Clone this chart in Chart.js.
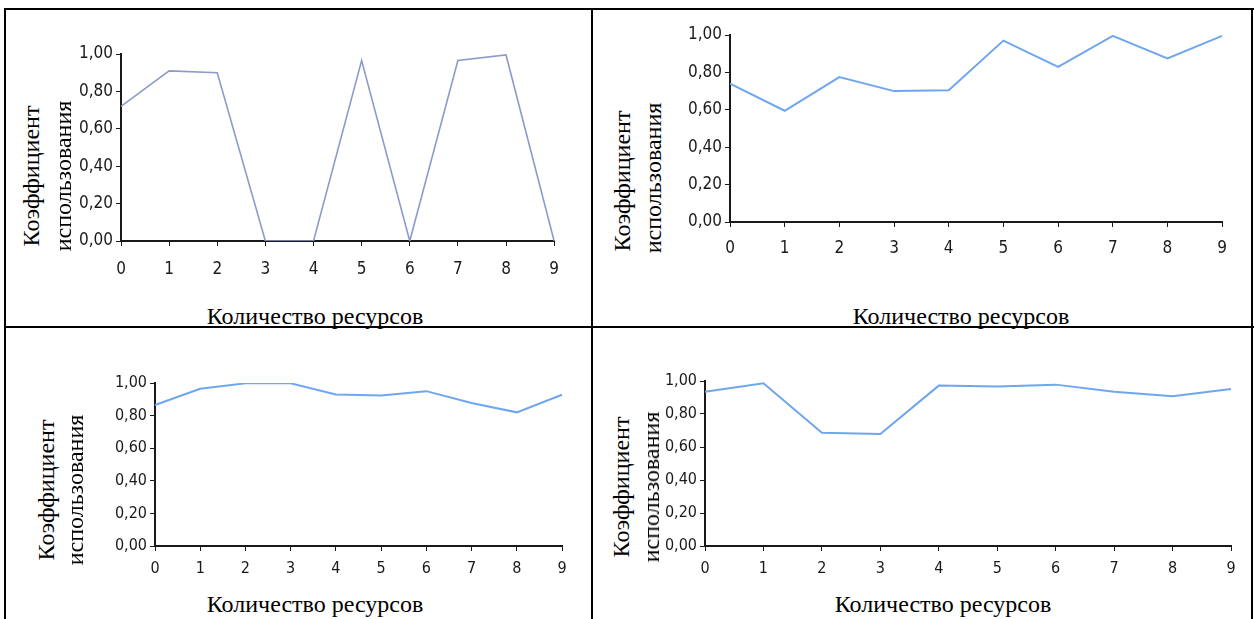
<!DOCTYPE html>
<html>
<head>
<meta charset="utf-8">
<script src="https://cdn.jsdelivr.net/npm/chart.js@4"></script>
<style>
    body { margin: 0; background: #fff; width: 1254px; height: 619px; position: relative; overflow: hidden; }
    canvas { position: absolute; }
    .line { position: absolute; background: #000; }
    .ttl { position: absolute; white-space: nowrap; font-family: 'Liberation Serif', 'Times New Roman', serif; font-size: 24px; color: #000; line-height: 1; }
    .rot { transform: translate(-50%, -50%) rotate(-90deg); }
    .hor { transform: translate(-50%, -50%); }
</style>
</head>
<body>
<div class="line" style="left:4px;top:8px;width:1250px;height:2px"></div>
<div class="line" style="left:4px;top:326px;width:1250px;height:2px"></div>
<div class="line" style="left:4px;top:8px;width:2px;height:611px"></div>
<div class="line" style="left:591px;top:8px;width:2px;height:611px"></div>
<div class="line" style="left:1251px;top:8px;width:2px;height:611px"></div>

<canvas id="chart1"></canvas>
<canvas id="chart2"></canvas>
<canvas id="chart3"></canvas>
<canvas id="chart4"></canvas>

<script>
// data
const resources = ['0', '1', '2', '3', '4', '5', '6', '7', '8', '9'];
const yTicks = [0, 0.2, 0.4, 0.6, 0.8, 1.0];
const usage1 = [0.72, 0.91, 0.90, 0, 0, 0.965, 0, 0.965, 0.995, 0];
const usage2 = [0.74, 0.595, 0.775, 0.70, 0.705, 0.97, 0.83, 0.995, 0.875, 0.995];
const usage3 = [0.865, 0.965, 0.998, 0.998, 0.93, 0.924, 0.95, 0.877, 0.82, 0.928];
const usage4 = [0.935, 0.986, 0.687, 0.679, 0.972, 0.966, 0.978, 0.935, 0.907, 0.952];

const yTitle = ['Коэффициент', 'использования'];
const xTitle = 'Количество ресурсов';

// layout of each panel (plot area edges, title centres)
const YW = 50, XH = 45, PT = 15, PR = 15;
const panels = [
    { id: 'chart1', data: usage1, color: '#8e9acb', width: 1.6, font: 17, xPad: 13,
      area: { left: 121, right: 557, top: 54, bottom: 241 },
      yt: [[31, 176], [63, 176]], xt: [315, 316] },
    { id: 'chart2', data: usage2, color: '#6ea6f0', width: 2, font: 17, xPad: 11,
      area: { left: 730, right: 1223, top: 35, bottom: 222 },
      yt: [[622, 181], [653, 178]], xt: [961, 316] },
    { id: 'chart3', data: usage3, color: '#6ea6f0', width: 2, font: 16, xPad: 8,
      area: { left: 155, right: 562, top: 383, bottom: 546 },
      yt: [[46, 490], [75, 490]], xt: [315, 604] },
    { id: 'chart4', data: usage4, color: '#6ea6f0', width: 2, font: 16, xPad: 8,
      area: { left: 705, right: 1231, top: 381, bottom: 546 },
      yt: [[621, 487], [651, 487]], xt: [943, 604] }
];

const tickFont = "'Liberation Sans Narrow', 'Arial Narrow', 'DejaVu Sans Condensed', sans-serif";

function addText(text, x, y, cls) {
    const el = document.createElement('div');
    el.className = 'ttl ' + cls;
    el.textContent = text;
    el.style.left = x + 'px';
    el.style.top = y + 'px';
    document.body.appendChild(el);
}

panels.forEach(p => {
    const canvas = document.getElementById(p.id);
    const w = p.area.right - p.area.left + YW + PR;
    const h = p.area.bottom - p.area.top + PT + XH;
    canvas.width = w;
    canvas.height = h;
    canvas.style.left = (p.area.left - YW) + 'px';
    canvas.style.top = (p.area.top - PT) + 'px';
    canvas.style.width = w + 'px';
    canvas.style.height = h + 'px';

    new Chart(canvas.getContext('2d'), {
        type: 'line',
        data: {
            labels: resources,
            datasets: [{
                data: p.data,
                borderColor: p.color,
                borderWidth: p.width,
                pointRadius: 0,
                tension: 0,
                fill: false
            }]
        },
        options: {
            responsive: false,
            animation: false,
            devicePixelRatio: 1,
            layout: { padding: { top: PT, right: PR, left: 0, bottom: 0 } },
            plugins: { legend: { display: false }, tooltip: { enabled: false } },
            scales: {
                x: {
                    offset: false,
                    afterFit: (scale) => { scale.height = XH; },
                    border: { display: true, color: '#1a1a1a', width: 2 },
                    grid: { drawOnChartArea: false, drawTicks: true, tickLength: 5, color: '#1a1a1a', lineWidth: 1 },
                    ticks: { color: '#1a1a1a', padding: p.xPad, maxRotation: 0, autoSkip: false, font: { family: tickFont, size: p.font } }
                },
                y: {
                    min: 0,
                    max: 1,
                    afterFit: (scale) => { scale.width = YW; },
                    afterBuildTicks: (scale) => { scale.ticks = yTicks.map(v => ({ value: v })); },
                    border: { display: true, color: '#1a1a1a', width: 2 },
                    grid: { drawOnChartArea: false, drawTicks: true, tickLength: 5, color: '#1a1a1a', lineWidth: 1 },
                    ticks: {
                        color: '#1a1a1a',
                        padding: 3,
                        font: { family: tickFont, size: p.font },
                        callback: (v) => Number(v).toFixed(2).replace('.', ',')
                    }
                }
            }
        }
    });

    addText(yTitle[0], p.yt[0][0], p.yt[0][1], 'rot');
    addText(yTitle[1], p.yt[1][0], p.yt[1][1], 'rot');
    addText(xTitle, p.xt[0], p.xt[1], 'hor');
});
</script>
</body>
</html>
